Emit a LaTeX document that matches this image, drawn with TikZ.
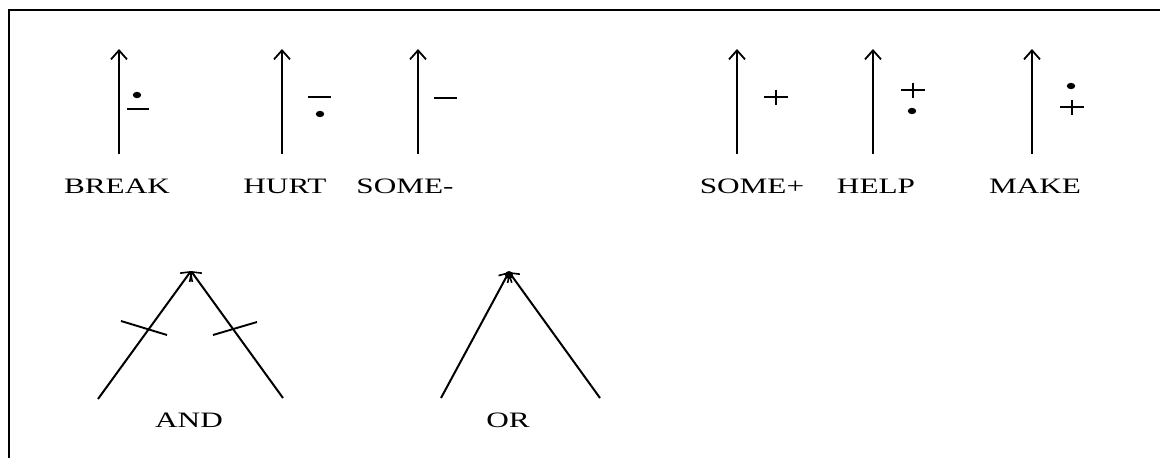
\documentclass[tikz,border=0pt]{standalone}
\usepackage{fontspec}
\setmainfont{Liberation Serif}
\usetikzlibrary{arrows.meta}
\tikzset{
  arr/.style={line width=2.3pt, -{Straight Barb[length=9pt,width=16pt,line width=1.8pt]}},
  leg/.style={line width=2pt, -{Straight Barb[length=7pt,width=15pt,line width=1.6pt]}},
  lbl/.style={font=\fontsize{22}{22}\selectfont, xscale=1.42, inner sep=0pt},
  sym/.style={line width=1.9pt},
  dotm/.style={fill=black},
  border/.style={line width=2.4pt}
}
\newcommand{\plusat}[2]{\draw[sym] (#1-12,#2) -- (#1+12,#2); \draw[sym] (#1,#2-7.5) -- (#1,#2+7.5);}
\newcommand{\dotat}[2]{\fill[dotm] (#1,#2) ellipse (4.2pt and 3.2pt);}
\begin{document}
\begin{tikzpicture}[x=1pt,y=-1pt]
\useasboundingbox (0,0) rectangle (1160,458);
\fill[white] (0,0) rectangle (1160,458);
\draw[border] (9,458) -- (9,10) -- (1160,10);

% top row arrows
\foreach \n/\x in {1/119,2/282,3/418,4/737,5/873,6/1032}{
  \coordinate (b\n) at (\x,154);
  \coordinate (t\n) at (\x,49);
  \draw[arr] (b\n) -- (t\n);
}

% BREAK symbols
\dotat{137}{95}
\draw[sym] (127,109) -- (149,109);
% HURT symbols
\draw[sym] (308,97) -- (331,97);
\dotat{320}{114}
% SOME- symbol
\draw[sym] (434,98) -- (457,98);
% SOME+ symbol
\plusat{776}{97}
% HELP symbols
\plusat{913}{90}
\dotat{912}{111}
% MAKE symbols
\dotat{1071}{86}
\plusat{1072}{107}

% labels
\node[lbl] (lbreak) at (117,186) {BREAK};
\node[lbl] (lhurt) at (285,186) {HURT};
\node[lbl] (lsomem) at (405,186) {SOME-};
\node[lbl] (lsomep) at (752,186) {SOME+};
\node[lbl] (lhelp) at (876,186) {HELP};
\node[lbl] (lmake) at (1035,186) {MAKE};

% AND
\coordinate (andtop) at (191,271);
\coordinate (andl) at (98,399);
\coordinate (andr) at (283,398);
\draw[leg] (andl) -- (andtop);
\draw[leg] (andr) -- (andtop);
\coordinate (cl1) at (121,321);
\coordinate (cl2) at (167,335);
\coordinate (cr1) at (213,335);
\coordinate (cr2) at (257,322);
\draw[sym] (cl1) -- (cl2);
\draw[sym] (cr1) -- (cr2);
\node[lbl] (land) at (189,420) {AND};

% OR
\coordinate (ortop) at (509,272);
\coordinate (orl) at (441,398);
\coordinate (orr) at (600,398);
\draw[leg] (orl) -- (ortop);
\draw[leg] (orr) -- (ortop);
\fill (ortop) ++(0,3) circle (4pt);
\node[lbl] (lor) at (508,420) {OR};
\end{tikzpicture}
\end{document}
